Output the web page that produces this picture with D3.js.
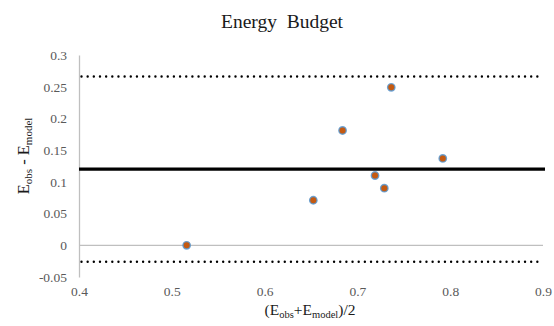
<!DOCTYPE html>
<html>
<head>
<meta charset="utf-8">
<script src="https://cdn.jsdelivr.net/npm/d3@7"></script>
<style>
  html, body { margin: 0; padding: 0; background: #fff; }
  svg { display: block; }
  svg text { font-family: "Liberation Serif", "Times New Roman", serif; }
</style>
</head>
<body>
<svg id="chart" width="554" height="326"></svg>
<script>
// Bland–Altman style comparison of observed vs modelled energy budget
const meanValues = [0.516, 0.6525, 0.684, 0.719, 0.729, 0.7365, 0.792];   // (Eobs+Emodel)/2
const diffValues = [0.000, 0.071, 0.181, 0.110, 0.090, 0.249, 0.137];     // Eobs - Emodel
const meanDiff = 0.12;
const upperLimit = 0.266;
const lowerLimit = -0.026;
const xTicks = [0.4, 0.5, 0.6, 0.7, 0.8, 0.9];
const yTicks = [-0.05, 0, 0.05, 0.1, 0.15, 0.2, 0.25, 0.3];

const svg = d3.select("#chart");
const margin = { left: 79, right: 11, top: 55, bottom: 49 };
const W = 554, H = 326;
const serif = '"Liberation Serif", "Times New Roman", serif';

const x = d3.scaleLinear().domain([0.4, 0.9]).range([margin.left, W - margin.right]);
const y = d3.scaleLinear().domain([-0.05, 0.3]).range([H - margin.bottom, margin.top]);

const fmt = d => (d === 0 ? "0" : String(+d.toFixed(2)));

// Horizontal axis crosses at zero; labels sit below the plot
svg.append("line")
  .attr("x1", x(0.4)).attr("x2", x(0.9))
  .attr("y1", y(0)).attr("y2", y(0))
  .attr("stroke", "#bfbfbf").attr("stroke-width", 1.3);

// Vertical axis
const yAxis = d3.axisLeft(y).tickValues(yTicks).tickFormat(fmt).tickSize(0).tickPadding(12);
const gy = svg.append("g").attr("transform", `translate(${x(0.4)},0)`).call(yAxis)
  .attr("font-family", null).attr("font-size", null);
gy.select(".domain").attr("stroke", "#bfbfbf").attr("stroke-width", 1.3);
gy.selectAll("text")
  .style("font-family", serif)
  .style("font-size", "13.5px").attr("fill", "#595959");

const xAxis = d3.axisBottom(x).tickValues(xTicks).tickFormat(d => d.toFixed(1)).tickSize(0).tickPadding(9);
const gx = svg.append("g").attr("transform", `translate(0,${y(-0.05)})`).call(xAxis)
  .attr("font-family", null).attr("font-size", null);
gx.select(".domain").remove();
gx.selectAll("text")
  .style("font-family", serif)
  .style("font-size", "13.5px").attr("fill", "#595959");

// Limits of agreement (dotted) and mean difference (solid)
[upperLimit, lowerLimit].forEach(v => {
  svg.append("line")
    .attr("x1", x(0.4) + 2.5).attr("x2", x(0.9))
    .attr("y1", y(v)).attr("y2", y(v))
    .attr("stroke", "#000").attr("stroke-width", 2.4)
    .attr("stroke-linecap", "round")
    .attr("stroke-dasharray", "0.01 6.15");
});
svg.append("line")
  .attr("x1", x(0.4)).attr("x2", x(0.9) + 2)
  .attr("y1", y(meanDiff)).attr("y2", y(meanDiff))
  .attr("stroke", "#000").attr("stroke-width", 3.2);

// Points
svg.append("g").selectAll("circle")
  .data(meanValues.map((m, i) => [m, diffValues[i]]))
  .join("circle")
  .attr("cx", d => x(d[0])).attr("cy", d => y(d[1]))
  .attr("r", 3.7)
  .attr("fill", "#c55a11")
  .attr("stroke", "#5b9bd5").attr("stroke-opacity", 0.85).attr("stroke-width", 1.4);

// Title
svg.append("text")
  .attr("x", 282).attr("y", 28)
  .attr("text-anchor", "middle")
  .style("font-size", "19.5px").attr("fill", "#1a1a1a")
  .attr("xml:space", "preserve")
  .text("Energy  Budget");

// X axis title: (Eobs+Emodel)/2
const xt = svg.append("text")
  .attr("x", 310).attr("y", 315)
  .attr("text-anchor", "middle")
  .style("font-size", "15.5px").attr("fill", "#1a1a1a");
xt.append("tspan").text("(E");
xt.append("tspan").style("font-size", "10.5px").attr("dy", 3).text("obs");
xt.append("tspan").attr("dy", -3).text("+E");
xt.append("tspan").style("font-size", "10.5px").attr("dy", 3).text("model");
xt.append("tspan").attr("dy", -3).text(")/2");

// Y axis title: Eobs - Emodel
const yt = svg.append("text")
  .attr("transform", "translate(29,156) rotate(-90)")
  .attr("text-anchor", "middle")
  .style("font-size", "16.5px").attr("fill", "#1a1a1a")
  .attr("xml:space", "preserve");
yt.append("tspan").text("E");
yt.append("tspan").style("font-size", "11px").attr("dy", 3).text("obs");
yt.append("tspan").attr("dy", -3).text(" - E");
yt.append("tspan").style("font-size", "11px").attr("dy", 3).text("model");
</script>
</body>
</html>
